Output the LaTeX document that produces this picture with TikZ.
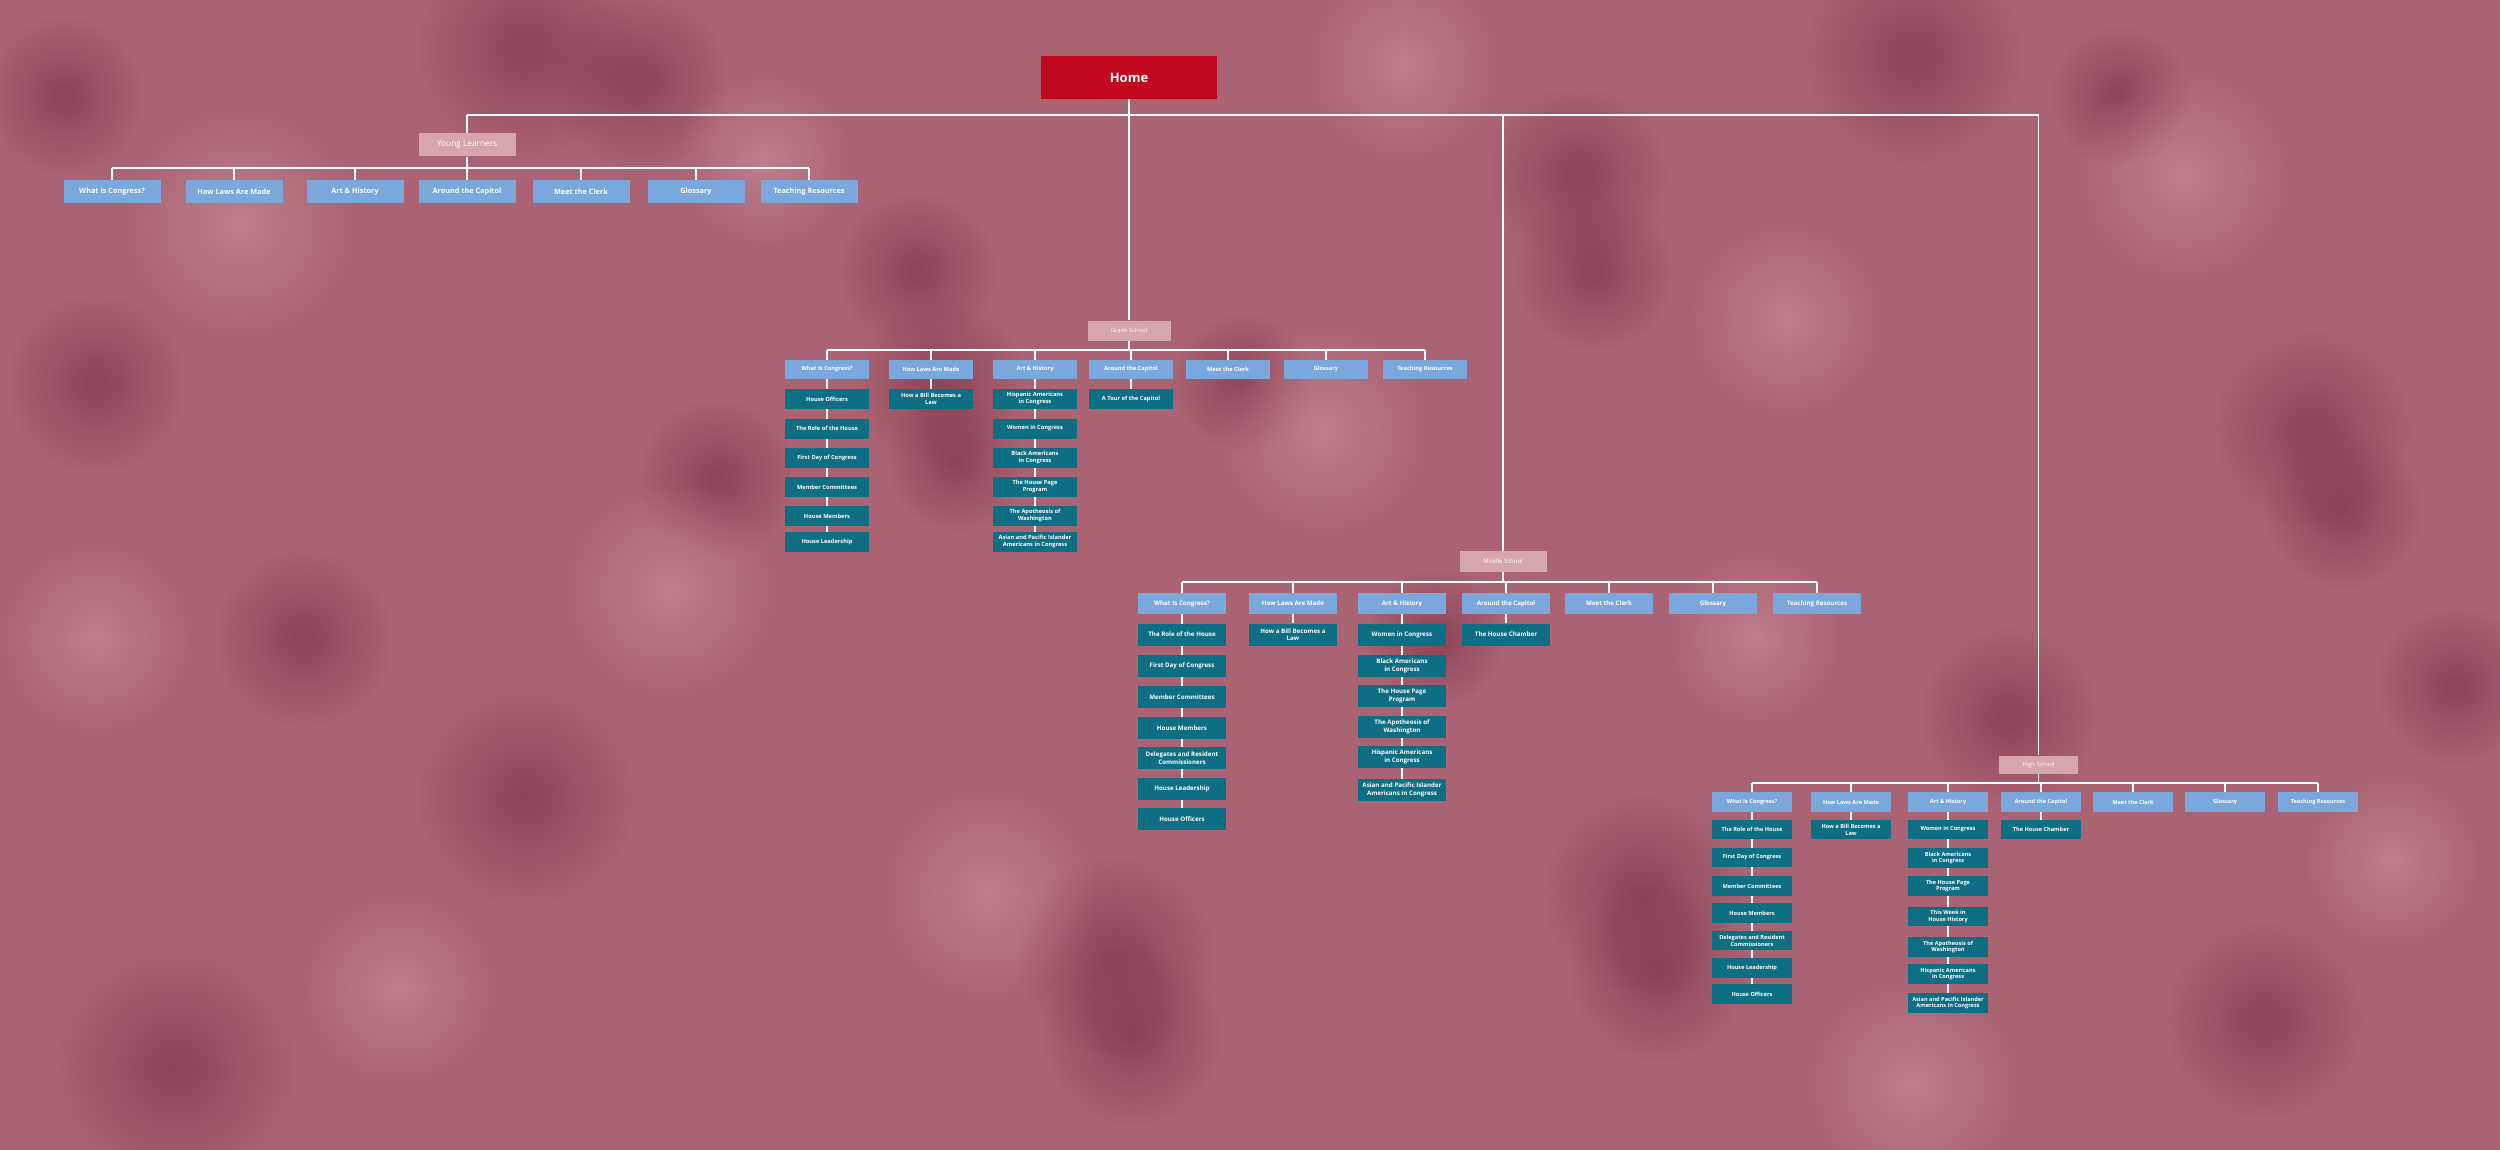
\documentclass[tikz,border=0pt]{standalone}
\usepackage{fontspec}
\setmainfont{Open Sans}
\usetikzlibrary{backgrounds}
\usetikzlibrary{fadings}

\definecolor{bgmid}{RGB}{170,99,115}
\definecolor{bgdark}{RGB}{120,42,66}
\definecolor{bglight}{RGB}{214,160,170}
\definecolor{homered}{RGB}{194,8,30}
\definecolor{levelpink}{RGB}{214,166,172}
\definecolor{topicblue}{RGB}{122,168,220}
\definecolor{pageteal}{RGB}{14,110,132}

\tikzfading[name=darkblob, inner color=transparent!45, outer color=transparent!100]
\tikzfading[name=lightblob, inner color=transparent!55, outer color=transparent!100]

\begin{document}
\begin{tikzpicture}
  [
    x=1pt, y=-1pt,
    home/.style={
      fill=homered,
      text=white,
      minimum width=176pt,
      minimum height=43pt,
      font=\fontsize{13}{15}\selectfont\bfseries
    },
    level/.style={
      fill=levelpink,
      text=white,
      inner sep=0pt
    },
    topic/.style={
      fill=topicblue,
      text=white,
      inner sep=0pt,
      align=center
    },
    page/.style={
      fill=pageteal,
      text=white,
      inner sep=0pt,
      align=center
    },
    ylbox/.style={minimum width=97pt, minimum height=23pt, font=\fontsize{7.3}{8.8}\selectfont\bfseries},
    gsbox/.style={minimum width=84pt, minimum height=20pt, font=\fontsize{5.7}{7}\selectfont\bfseries},
    msbox/.style={minimum width=88pt, minimum height=22pt, font=\fontsize{6.2}{7.6}\selectfont\bfseries},
    hsbox/.style={minimum width=80pt, minimum height=19.5pt, font=\fontsize{5.6}{6.8}\selectfont\bfseries},
    link/.style={draw=white, line width=1.8pt}
  ]
  \useasboundingbox (0,0) rectangle (2500,1150);
  % background
  \begin{scope}[on background layer]
    \fill [bgmid] (0,0) rectangle (2500,1150);
    \foreach \x/\y/\r in {526/48/110, 638/80/90, 1578/175/90, 1594/271/80, 1913/56/110,
      917/271/80, 940/383/85, 956/462/70, 717/478/80, 2312/430/100, 2343/510/80,
      2455/685/80, 526/797/110, 1116/956/100, 1132/1036/90, 1642/893/100, 1658/972/90,
      2009/717/90, 175/1068/120, 303/638/90, 96/383/90, 1243/383/70, 1435/638/70,
      2264/1020/100, 64/96/80, 2120/96/70}
      \fill [bgdark, path fading=darkblob] (\x,\y) circle (\r);
    \foreach \x/\y/\r in {240/223/120, 1323/430/110, 1786/319/100, 2184/175/110,
      96/638/100, 670/590/110, 988/893/110, 2392/861/90, 1913/1084/110, 1403/64/100,
      1754/638/90, 399/988/100, 765/160/90}
      \fill [bglight, path fading=lightblob] (\x,\y) circle (\r);
  \end{scope}
  % home
  \node [home] (home) at (1129,77.5) {Home};
  % young learners
  \node [level, ylbox, font=\fontsize{8.3}{10}\selectfont] (yl) at (467,145) {Young Learners};
  \node [topic, ylbox] (ylA) at (112,192) {What Is Congress?};
  \node [topic, ylbox] (ylB) at (234,192) {How Laws Are Made};
  \node [topic, ylbox] (ylC) at (355,192) {Art \& History};
  \node [topic, ylbox] (ylD) at (467,192) {Around the Capitol};
  \node [topic, ylbox] (ylE) at (581,192) {Meet the Clerk};
  \node [topic, ylbox] (ylF) at (696,192) {Glossary};
  \node [topic, ylbox] (ylG) at (809,192) {Teaching Resources};
  % grade school
  \node [level, gsbox, minimum width=83pt, font=\fontsize{5.8}{7}\selectfont] (gs) at (1129,330.5) {Grade School};
  \node [topic, gsbox, minimum height=19pt] (gsA) at (827,369.5) {What Is Congress?};
  \node [topic, gsbox, minimum height=19pt] (gsB) at (931,369.5) {How Laws Are Made};
  \node [topic, gsbox, minimum height=19pt] (gsC) at (1035,369.5) {Art \& History};
  \node [topic, gsbox, minimum height=19pt] (gsD) at (1131,369.5) {Around the Capitol};
  \node [topic, gsbox, minimum height=19pt] (gsE) at (1228,369.5) {Meet the Clerk};
  \node [topic, gsbox, minimum height=19pt] (gsF) at (1326,369.5) {Glossary};
  \node [topic, gsbox, minimum height=19pt] (gsG) at (1425,369.5) {Teaching Resources};
  \node [page, gsbox] (gsA1) at (827,399) {House Officers};
  \node [page, gsbox] (gsA2) at (827,428.5) {The Role of the House};
  \node [page, gsbox] (gsA3) at (827,458) {First Day of Congress};
  \node [page, gsbox] (gsA4) at (827,487) {Member Committees};
  \node [page, gsbox] (gsA5) at (827,516) {House Members};
  \node [page, gsbox] (gsA6) at (827,542) {House Leadership};
  \node [page, gsbox] (gsB1) at (931,399) {How a Bill Becomes a\\Law};
  \node [page, gsbox] (gsC1) at (1035,399) {Hispanic Americans\\in Congress};
  \node [page, gsbox] (gsC2) at (1035,428.5) {Women in Congress};
  \node [page, gsbox] (gsC3) at (1035,458) {Black Americans\\in Congress};
  \node [page, gsbox] (gsC4) at (1035,487) {The House Page\\Program};
  \node [page, gsbox] (gsC5) at (1035,516) {The Apotheosis of\\Washington};
  \node [page, gsbox] (gsC6) at (1035,542) {Asian and Pacific Islander\\Americans in Congress};
  \node [page, gsbox] (gsD1) at (1131,399) {A Tour of the Capitol};
  % middle school
  \node [level, msbox, minimum width=87pt, minimum height=21pt, font=\fontsize{6}{7}\selectfont] (ms) at (1503,561.5) {Middle School};
  \node [topic, msbox, minimum height=21pt] (msA) at (1182,603.5) {What Is Congress?};
  \node [topic, msbox, minimum height=21pt] (msB) at (1293,603.5) {How Laws Are Made};
  \node [topic, msbox, minimum height=21pt] (msC) at (1402,603.5) {Art \& History};
  \node [topic, msbox, minimum height=21pt] (msD) at (1506,603.5) {Around the Capitol};
  \node [topic, msbox, minimum height=21pt] (msE) at (1609,603.5) {Meet the Clerk};
  \node [topic, msbox, minimum height=21pt] (msF) at (1713,603.5) {Glossary};
  \node [topic, msbox, minimum height=21pt] (msG) at (1817,603.5) {Teaching Resources};
  \node [page, msbox] (msA1) at (1182,634.5) {The Role of the House};
  \node [page, msbox] (msA2) at (1182,666) {First Day of Congress};
  \node [page, msbox] (msA3) at (1182,697) {Member Committees};
  \node [page, msbox] (msA4) at (1182,728) {House Members};
  \node [page, msbox] (msA5) at (1182,758) {Delegates and Resident\\Commissioners};
  \node [page, msbox] (msA6) at (1182,789) {House Leadership};
  \node [page, msbox] (msA7) at (1182,819) {House Officers};
  \node [page, msbox] (msB1) at (1293,634.5) {How a Bill Becomes a\\Law};
  \node [page, msbox] (msC1) at (1402,634.5) {Women in Congress};
  \node [page, msbox] (msC2) at (1402,666) {Black Americans\\in Congress};
  \node [page, msbox] (msC3) at (1402,696) {The House Page\\Program};
  \node [page, msbox] (msC4) at (1402,727) {The Apotheosis of\\Washington};
  \node [page, msbox] (msC5) at (1402,757) {Hispanic Americans\\in Congress};
  \node [page, msbox] (msC6) at (1402,790) {Asian and Pacific Islander\\Americans in Congress};
  \node [page, msbox] (msD1) at (1506,634.5) {The House Chamber};
  % high school
  \node [level, hsbox, minimum width=79pt, minimum height=18pt, font=\fontsize{5.8}{7}\selectfont] (hs) at (2038.5,764.5) {High School};
  \node [topic, hsbox, minimum height=20pt] (hsA) at (1752,802) {What Is Congress?};
  \node [topic, hsbox, minimum height=20pt] (hsB) at (1851,802) {How Laws Are Made};
  \node [topic, hsbox, minimum height=20pt] (hsC) at (1948,802) {Art \& History};
  \node [topic, hsbox, minimum height=20pt] (hsD) at (2041,802) {Around the Capitol};
  \node [topic, hsbox, minimum height=20pt] (hsE) at (2133,802) {Meet the Clerk};
  \node [topic, hsbox, minimum height=20pt] (hsF) at (2225,802) {Glossary};
  \node [topic, hsbox, minimum height=20pt] (hsG) at (2318,802) {Teaching Resources};
  \node [page, hsbox] (hsA1) at (1752,829.5) {The Role of the House};
  \node [page, hsbox] (hsA2) at (1752,857.5) {First Day of Congress};
  \node [page, hsbox] (hsA3) at (1752,886) {Member Committees};
  \node [page, hsbox] (hsA4) at (1752,913) {House Members};
  \node [page, hsbox] (hsA5) at (1752,940.5) {Delegates and Resident\\Commissioners};
  \node [page, hsbox] (hsA6) at (1752,968) {House Leadership};
  \node [page, hsbox] (hsA7) at (1752,994) {House Officers};
  \node [page, hsbox] (hsB1) at (1851,829.5) {How a Bill Becomes a\\Law};
  \node [page, hsbox] (hsC1) at (1948,829.5) {Women in Congress};
  \node [page, hsbox] (hsC2) at (1948,858) {Black Americans\\in Congress};
  \node [page, hsbox] (hsC3) at (1948,886) {The House Page\\Program};
  \node [page, hsbox] (hsC4) at (1948,916.5) {This Week in\\House History};
  \node [page, hsbox] (hsC5) at (1948,947) {The Apotheosis of\\Washington};
  \node [page, hsbox] (hsC6) at (1948,974) {Hispanic Americans\\in Congress};
  \node [page, hsbox] (hsC7) at (1948,1003) {Asian and Pacific Islander\\Americans in Congress};
  \node [page, hsbox] (hsD1) at (2041,829.5) {The House Chamber};
  % connectors
  \coordinate (topbar) at (1129,115);
  \coordinate (ylbar) at (467,168);
  \coordinate (gsbar) at (1129,350);
  \coordinate (msbar) at (1503,582);
  \coordinate (hsbar) at (2038.5,783);
  \begin{scope}[on background layer, every path/.style={link}]
    \draw (home) -- (gs);
    \draw (yl |- topbar) -- (hs |- topbar);
    \draw (yl) -- (yl |- topbar);
    \draw (ms) -- (ms |- topbar);
    \draw (hs) -- (hs |- topbar);
    % young learners
    \draw (yl) -- (ylbar);
    \draw (ylA |- ylbar) -- (ylG |- ylbar);
    \foreach \c in {A,B,C,D,E,F,G} \draw (yl\c) -- (yl\c |- ylbar);
    % grade school
    \draw (gs) -- (gsbar);
    \draw (gsA |- gsbar) -- (gsG |- gsbar);
    \foreach \c in {A,B,C,D,E,F,G} \draw (gs\c) -- (gs\c |- gsbar);
    \draw (gsA) -- (gsA6);
    \draw (gsB) -- (gsB1);
    \draw (gsC) -- (gsC6);
    \draw (gsD) -- (gsD1);
    % middle school
    \draw (ms) -- (msbar);
    \draw (msA |- msbar) -- (msG |- msbar);
    \foreach \c in {A,B,C,D,E,F,G} \draw (ms\c) -- (ms\c |- msbar);
    \draw (msA) -- (msA7);
    \draw (msB) -- (msB1);
    \draw (msC) -- (msC6);
    \draw (msD) -- (msD1);
    % high school
    \draw (hs) -- (hsbar);
    \draw (hsA |- hsbar) -- (hsG |- hsbar);
    \foreach \c in {A,B,C,D,E,F,G} \draw (hs\c) -- (hs\c |- hsbar);
    \draw (hsA) -- (hsA7);
    \draw (hsB) -- (hsB1);
    \draw (hsC) -- (hsC7);
    \draw (hsD) -- (hsD1);
  \end{scope}
\end{tikzpicture}
\end{document}
